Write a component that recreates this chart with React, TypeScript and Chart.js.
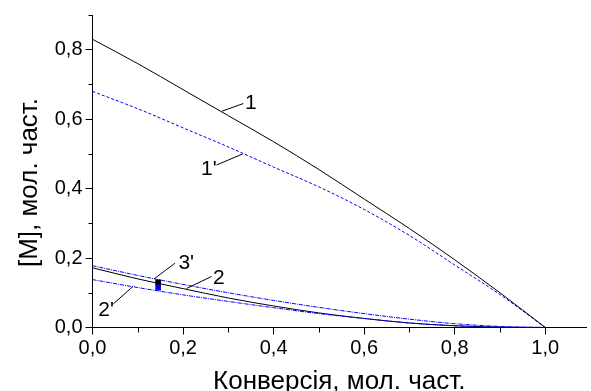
import React, { useEffect, useRef } from 'react';
import { Chart, registerables } from 'chart.js';

Chart.register(...registerables);

const conversion = [0, 0.1, 0.2, 0.3, 0.4, 0.5, 0.6, 0.7, 0.8, 0.9, 1.0];
const curve1 = [0.83, 0.76, 0.685, 0.61, 0.535, 0.455, 0.37, 0.285, 0.195, 0.1, 0];
const curve1p = [0.68, 0.63, 0.575, 0.52, 0.462, 0.405, 0.34, 0.265, 0.18, 0.095, 0];
const curve2 = [0.172, 0.14, 0.112, 0.085, 0.062, 0.042, 0.026, 0.013, 0.005, 0.001, 0];
const curve2p = [0.138, 0.115, 0.094, 0.075, 0.057, 0.04, 0.026, 0.013, 0.005, 0.001, 0];
const curve3p = [0.178, 0.15, 0.124, 0.1, 0.078, 0.058, 0.04, 0.024, 0.011, 0.003, 0];
const pointBlack = { x: 0.145, y: 0.13 };
const pointBlue = { x: 0.145, y: 0.115 };

const labelTexts = ['1', "1'", "3'", '2', "2'"];
const labelAt = [
  [0.35, 0.645],
  [0.257, 0.457],
  [0.207, 0.186],
  [0.279, 0.143],
  [0.03, 0.049],
];
const leaderFrom = [
  [0.333, 0.645],
  [0.274, 0.468],
  [0.182, 0.185],
  [0.263, 0.147],
  [0.046, 0.068],
];
const leaderTo = [
  [0.286, 0.623],
  [0.332, 0.5],
  [0.136, 0.14],
  [0.208, 0.1125],
  [0.09, 0.119],
];

const xMajor = [0, 0.2, 0.4, 0.6, 0.8, 1.0];
const yMajor = [0, 0.2, 0.4, 0.6, 0.8];
const minorTicks = [0.1, 0.3, 0.5, 0.7, 0.9];
const xTitle = 'Конверсія, мол. част.';
const yTitle = '[M], мол. част.';

const FONT = '"Liberation Sans", Arial, sans-serif';

const toPts = (ys: number[]) => conversion.map((x, i) => ({ x, y: ys[i] }));
const fmt = (v: number) => v.toFixed(1).replace('.', ',');

const overlay = {
  id: 'overlay',
  afterDraw(chart: any) {
    const { ctx, scales, chartArea } = chart;
    const xs = scales.x;
    const ys = scales.y;
    ctx.save();
    ctx.strokeStyle = '#000';
    ctx.lineWidth = 1;
    minorTicks.forEach((v) => {
      const px = Math.round(xs.getPixelForValue(v)) + 0.5;
      ctx.beginPath();
      ctx.moveTo(px, chartArea.bottom);
      ctx.lineTo(px, chartArea.bottom + 5);
      ctx.stroke();
      const py = Math.round(ys.getPixelForValue(v)) + 0.5;
      ctx.beginPath();
      ctx.moveTo(chartArea.left - 4, py);
      ctx.lineTo(chartArea.left, py);
      ctx.stroke();
    });
    ctx.font = `21px ${FONT}`;
    ctx.fillStyle = '#000';
    ctx.textAlign = 'center';
    ctx.textBaseline = 'middle';
    labelTexts.forEach((t, i) => {
      ctx.beginPath();
      ctx.moveTo(xs.getPixelForValue(leaderFrom[i][0]), ys.getPixelForValue(leaderFrom[i][1]));
      ctx.lineTo(xs.getPixelForValue(leaderTo[i][0]), ys.getPixelForValue(leaderTo[i][1]));
      ctx.stroke();
      ctx.fillText(t, xs.getPixelForValue(labelAt[i][0]), ys.getPixelForValue(labelAt[i][1]));
    });
    ctx.font = `26px ${FONT}`;
    ctx.textBaseline = 'alphabetic';
    ctx.fillText(xTitle, (xs.left + xs.right) / 2, 389);
    ctx.translate(37, 182.5);
    ctx.rotate(-Math.PI / 2);
    ctx.fillText(yTitle, 0, 0);
    ctx.restore();
  },
};

export default function App() {
  const ref = useRef<HTMLCanvasElement | null>(null);
  useEffect(() => {
    if (!ref.current) return;
    const line = (data: number[], color: string, dash: number[]) => ({
      type: 'line' as const,
      data: toPts(data),
      borderColor: color,
      borderWidth: 1,
      borderDash: dash,
      pointRadius: 0,
      cubicInterpolationMode: 'monotone' as const,
      fill: false,
    });
    const chart = new Chart(ref.current, {
      type: 'line',
      data: {
        datasets: [
          line(curve1, '#000000', []),
          line(curve1p, '#0000ff', [3, 2]),
          line(curve3p, '#0000ff', [4, 1, 1, 1]),
          line(curve2p, '#0000ff', [4, 1, 1, 1]),
          line(curve2, '#000000', []),
          {
            type: 'scatter' as const,
            data: [pointBlue],
            pointStyle: 'rect',
            pointRadius: 4,
            backgroundColor: '#0000ff',
            borderColor: '#0000ff',
            borderWidth: 0,
          } as any,
          {
            type: 'scatter' as const,
            data: [pointBlack],
            pointStyle: 'rect',
            pointRadius: 4,
            backgroundColor: '#000000',
            borderColor: '#000000',
            borderWidth: 0,
          } as any,
        ],
      },
      options: {
        responsive: false,
        animation: false,
        devicePixelRatio: 1,
        layout: { padding: { top: 5, right: 5, left: 0, bottom: 0 } },
        plugins: { legend: { display: false }, tooltip: { enabled: false } },
        scales: {
          x: {
            type: 'linear',
            min: 0,
            max: 1.09,
            afterBuildTicks: (axis: any) => {
              axis.ticks = xMajor.map((v) => ({ value: v }));
            },
            afterFit: (scale: any) => {
              scale.height = 63.5;
            },
            ticks: {
              callback: (v: any) => fmt(Number(v)),
              font: { family: FONT, size: 20 },
              color: '#000',
              padding: 2,
              maxRotation: 0,
              autoSkip: false,
            },
            grid: { drawOnChartArea: false, tickLength: 7, color: '#000', tickColor: '#000' },
            border: { color: '#000', width: 1 },
          },
          y: {
            type: 'linear',
            min: 0,
            max: 0.9,
            afterBuildTicks: (axis: any) => {
              axis.ticks = yMajor.map((v) => ({ value: v }));
            },
            afterFit: (scale: any) => {
              scale.width = 92.5;
            },
            ticks: {
              callback: (v: any) => fmt(Number(v)),
              font: { family: FONT, size: 20 },
              color: '#000',
              padding: 3,
              autoSkip: false,
            },
            grid: { drawOnChartArea: false, tickLength: 7, color: '#000', tickColor: '#000' },
            border: { color: '#000', width: 1 },
          },
        },
      } as any,
      plugins: [overlay],
    });
    return () => chart.destroy();
  }, []);
  return (
    <div style={{ position: 'absolute', left: 0, top: 0, width: 591, height: 391, background: '#fff' }}>
      <canvas ref={ref} width={591} height={391} />
    </div>
  );
}
